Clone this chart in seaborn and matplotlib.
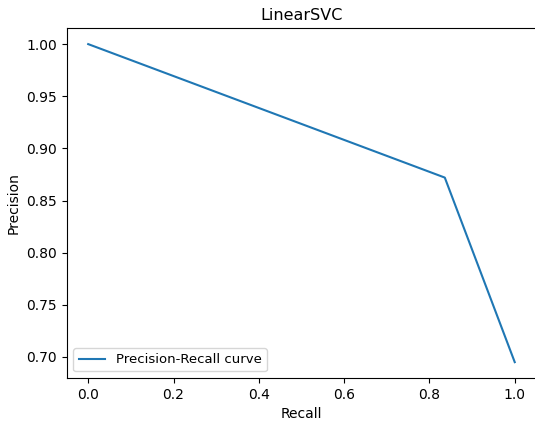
import matplotlib
matplotlib.use("Agg")
import matplotlib.pyplot as plt
import seaborn as sns
import pandas as pd

recall = [0.0, 0.836, 1.0]
precision = [1.0, 0.872, 0.695]

df = pd.DataFrame({"Recall": recall, "Precision": precision})

plt.rcParams["font.family"] = ["DejaVu Sans"]
fig, ax = plt.subplots(figsize=(5.35, 4.21), dpi=100)
sns.lineplot(data=df, x="Recall", y="Precision", ax=ax, color="#1f77b4",
             label="Precision-Recall curve", sort=False)
ax.set_title("LinearSVC", fontsize=11.5)
ax.set_xlabel("Recall")
ax.set_ylabel("Precision")
ax.legend(loc="lower left", fontsize=9.5)
fig.subplots_adjust(left=0.125, right=1.002, top=0.933, bottom=0.102)
fig.savefig("out.png", dpi=100)
